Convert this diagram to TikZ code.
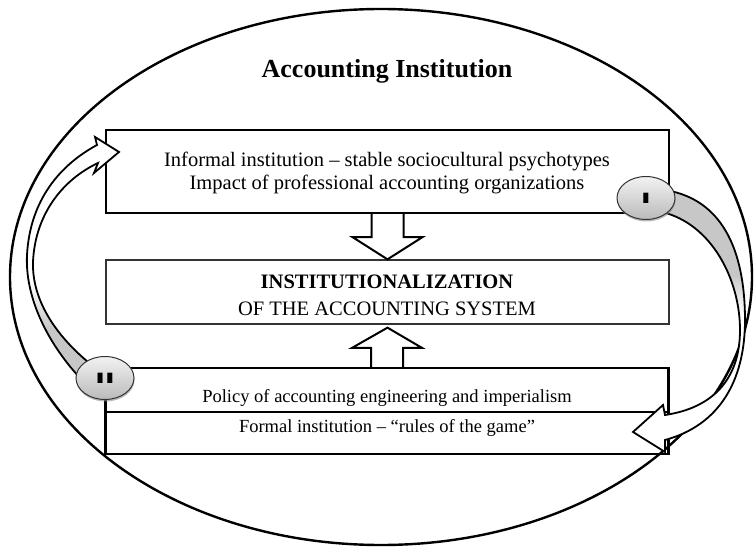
\documentclass[tikz,border=0pt]{standalone}
\usepackage{fontspec}
\setmainfont{Liberation Serif}
\setsansfont{Liberation Sans}
\usetikzlibrary{shapes.geometric,shadows,calc}
\begin{document}
\begin{tikzpicture}[x=1pt,y=-1pt,
  boxthick/.style={draw, line width=2.2pt, minimum width=563pt, inner sep=0pt},
  boxthin/.style={draw=black!80, line width=1.3pt, minimum width=563pt, inner sep=0pt},
  titletxt/.style={anchor=base, font=\bfseries\fontsize{26}{30}\selectfont},
  bigtxt/.style={anchor=base, font=\fontsize{20.5}{24}\selectfont},
  smalltxt/.style={anchor=base, font=\fontsize{18.5}{22}\selectfont},
  blockarrow/.style={draw, fill=white, line width=2pt, line join=miter},
  bandline/.style={draw, line width=1.8pt, line join=miter},
  badge/.style={ellipse, draw=black!80, line width=1pt, minimum width=58pt, minimum height=43pt,
    inner sep=0pt, top color=black!5, bottom color=black!27,
    drop shadow={shadow xshift=0.5pt, shadow yshift=-2pt, fill=black!45, opacity=0.6},
    font=\sffamily\bfseries\fontsize{15}{15}\selectfont}
]
\useasboundingbox (0,0) rectangle (755,548);
\fill[white] (0,0) rectangle (755,548);
% outer ellipse
\draw[line width=2.4pt] (381,277) ellipse [x radius=371, y radius=268];
% title
\node[titletxt] (ttl) at (387,78) {Accounting Institution};
% top box
\node[boxthick, minimum height=83pt] (top) at (387.5,171.5) {};
\node[bigtxt] (t1) at (387,167) {Informal institution – stable sociocultural psychotypes};
\node[bigtxt] (t2) at (387,190) {Impact of professional accounting organizations};
% middle box
\node[boxthin, minimum height=64pt] (mid) at (387.5,292) {};
\node[bigtxt, font=\bfseries\fontsize{20.5}{24}\selectfont] (m1) at (387,288) {INSTITUTIONALIZATION};
\node[bigtxt] (m2) at (387,315) {OF THE ACCOUNTING SYSTEM};
% bottom box
\node[boxthick, minimum height=86pt] (bot) at (387,411) {};
\draw[line width=2.2pt] ([yshift=-1pt]bot.west) -- ([yshift=-1pt]bot.east);
\node[smalltxt] (b1) at (387,402) {Policy of accounting engineering and imperialism};
\node[smalltxt] (b2) at (387,432) {Formal institution – “rules of the game”};
% block arrows
\draw[blockarrow] ($(top.south)+(-16,0)$) -- ++(0,23) -- ++(-19,0) -- (mid.north)
  -- ($(top.south)+(35,23)$) -- ++(-19,0) -- ($(top.south)+(16,0)$);
\draw[blockarrow] ($(bot.north)+(-16,0)$) -- ++(0,-19) -- ++(-19,0) -- ($(mid.south)+(0,3)$)
  -- ($(bot.north)+(35,-19)$) -- ++(-19,0) -- ($(bot.north)+(16,0)$);
% right curved arrow (I)
\fill[white] (665,190) .. controls (728,200) and (745,260) .. (745,320) .. controls (745,380) and (720,425) .. (665,440) -- (665,452) -- (633,432) -- (663,405) -- (665,415) .. controls (712,408) and (740,380) .. (740,330) .. controls (740,280) and (712,224) .. (662,212) -- cycle;
\begin{scope}
\clip (665,190) .. controls (728,200) and (745,260) .. (745,320) .. controls (745,380) and (720,425) .. (665,440) -- (665,452) -- (633,432) -- (663,405) -- (665,415) .. controls (712,408) and (740,380) .. (740,330) .. controls (740,280) and (712,224) .. (662,212) -- cycle;
\fill[black!22] (600,150) rectangle (760,275);
\shade[top color=black!22, bottom color=white] (600,275) rectangle (760,315);
\end{scope}
\draw[bandline] (665,190) .. controls (728,200) and (745,260) .. (745,320) .. controls (745,380) and (720,425) .. (665,440) -- (665,452) -- (633,432) -- (663,405) -- (665,415) .. controls (712,408) and (740,380) .. (740,330) .. controls (740,280) and (712,224) .. (662,212) -- cycle;
% left curved arrow (II)
\fill[white] (80,378) .. controls (45,340) and (25,295) .. (27,255) .. controls (30,200) and (60,165) .. (97,145) -- (95,137) -- (119,152) -- (94,173) -- (98,163) .. controls (62,180) and (35,215) .. (33,262) .. controls (32,295) and (50,330) .. (88,362) -- cycle;
\begin{scope}
\clip (80,378) .. controls (45,340) and (25,295) .. (27,255) .. controls (30,200) and (60,165) .. (97,145) -- (95,137) -- (119,152) -- (94,173) -- (98,163) .. controls (62,180) and (35,215) .. (33,262) .. controls (32,295) and (50,330) .. (88,362) -- cycle;
\shade[top color=white, bottom color=black!22] (0,280) rectangle (130,330);
\fill[black!22] (0,330) rectangle (130,400);
\end{scope}
\draw[bandline] (80,378) .. controls (45,340) and (25,295) .. (27,255) .. controls (30,200) and (60,165) .. (97,145) -- (95,137) -- (119,152) -- (94,173) -- (98,163) .. controls (62,180) and (35,215) .. (33,262) .. controls (32,295) and (50,330) .. (88,362) -- cycle;
% badges
\node[badge] (c1) at (646,198) {\scalebox{2.3}[1]{I}};
\node[badge] (c2) at (105,378) {\scalebox{2.3}[1]{II}};
\end{tikzpicture}
\end{document}
